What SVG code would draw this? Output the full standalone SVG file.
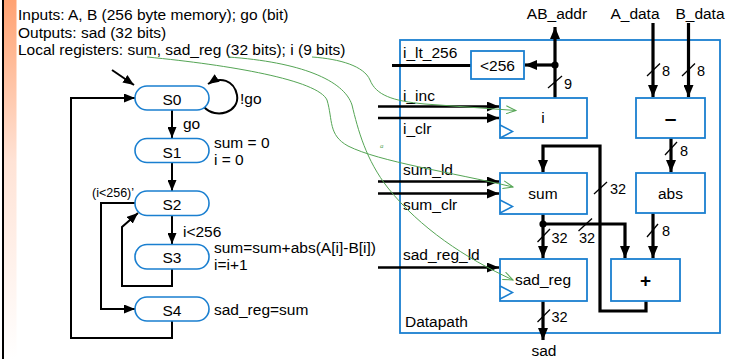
<svg xmlns="http://www.w3.org/2000/svg" width="734" height="359" viewBox="0 0 734 359">
<defs>
<linearGradient id="bar" x1="0" y1="0" x2="0" y2="1">
<stop offset="0" stop-color="#ffa272"/>
<stop offset="0.45" stop-color="#ffe3d6"/>
<stop offset="1" stop-color="#ffffff"/>
</linearGradient>
<marker id="ah" markerUnits="userSpaceOnUse" markerWidth="13" markerHeight="10" refX="12" refY="5" orient="auto"><path d="M0,0 L12,5 L0,10 z" fill="#000"/></marker>
<marker id="ahs" markerUnits="userSpaceOnUse" markerWidth="12" markerHeight="9" refX="11" refY="4.5" orient="auto"><path d="M0,0 L11,4.5 L0,9 z" fill="#000"/></marker>
<marker id="ga" markerUnits="userSpaceOnUse" markerWidth="11" markerHeight="9" refX="10" refY="4.5" orient="auto"><path d="M0,0.5 L10,4.5 L0,8.5" fill="none" stroke="#55a555" stroke-width="1"/></marker>
</defs>
<style>
text{font-family:"Liberation Sans",Arial,Helvetica,sans-serif;font-size:15.5px;fill:#000}
.pill{fill:#fff;stroke:#1a7fd0;stroke-width:1.6}
.box{fill:#fff;stroke:#1a7fd0;stroke-width:1.8}
.clk{fill:none;stroke:#1a7fd0;stroke-width:1.5}
.w{fill:none;stroke:#000;stroke-width:2}
.bus{fill:none;stroke:#000;stroke-width:3.2}
.ctl{fill:none;stroke:#000;stroke-width:2.6}
.sl{stroke:#000;stroke-width:1.3}
.g{fill:none;stroke:#55a555;stroke-width:1}
.c{text-anchor:middle}
.sm{font-size:14.5px}
</style>
<rect x="0" y="0" width="734" height="359" fill="#fff"/>
<rect x="4" y="0" width="12.5" height="359" fill="url(#bar)"/>
<line x1="3" y1="0" x2="3" y2="359" stroke="#000" stroke-width="2"/>

<g id="header">
<text x="18" y="20">Inputs: A, B (256 byte memory); go (bit)</text>
<text x="18" y="37.5">Outputs: sad (32 bits)</text>
<text x="18" y="55">Local registers: sum, sad_reg (32 bits); i (9 bits)</text>
</g>

<g id="datapath">
<rect x="400" y="40" width="320" height="293" fill="none" stroke="#1a7fd0" stroke-width="1.8"/>
<text x="405" y="327">Datapath</text>
</g>

<g id="connectors">
<!-- FSM -->
<line class="w" x1="112" y1="70" x2="134" y2="85" marker-end="url(#ahs)"/>
<path class="w" d="M204,107 C216,120 240,112 237,95 C234,80 220,76 208,84" marker-end="url(#ahs)"/>
<line class="w" x1="172" y1="110" x2="172" y2="138" marker-end="url(#ahs)"/>
<line class="w" x1="172" y1="163" x2="172" y2="191" marker-end="url(#ahs)"/>
<line class="w" x1="172" y1="216" x2="172" y2="244" marker-end="url(#ahs)"/>
<path class="w" d="M135,203 H101 V309 H135" marker-end="url(#ahs)"/>
<path class="w" d="M172,269 V286 H122 V227 L138,213" marker-end="url(#ahs)"/>
<path class="w" d="M172,321 V338 H71 V98 H135" marker-end="url(#ahs)"/>
<!-- datapath -->
<line class="bus" x1="555" y1="98" x2="555" y2="27" marker-end="url(#ah)"/>
<line class="bus" x1="555" y1="65" x2="525" y2="65" marker-end="url(#ah)"/>
<circle cx="555" cy="65" r="3.6" fill="#000"/>
<line class="bus" x1="392" y1="65.5" x2="471" y2="65.5"/>
<line class="ctl" x1="378" y1="106.5" x2="499" y2="106.5" marker-end="url(#ah)"/>
<line class="ctl" x1="378" y1="118" x2="499" y2="118" marker-end="url(#ah)"/>
<line class="ctl" x1="378" y1="181.5" x2="499" y2="181.5" marker-end="url(#ah)"/>
<line class="ctl" x1="378" y1="193.5" x2="499" y2="193.5" marker-end="url(#ah)"/>
<line class="ctl" x1="378" y1="267.5" x2="499" y2="267.5" marker-end="url(#ah)"/>
<line class="bus" x1="653" y1="23" x2="653" y2="97" marker-end="url(#ah)"/>
<line class="bus" x1="688.5" y1="23" x2="688.5" y2="97" marker-end="url(#ah)"/>
<line class="bus" x1="671" y1="138" x2="671" y2="172" marker-end="url(#ah)"/>
<line class="bus" x1="653" y1="213" x2="653" y2="258" marker-end="url(#ah)"/>
<path class="bus" d="M646,301 V311 H600 V146 H543 V172" marker-end="url(#ah)"/>
<line class="bus" x1="543" y1="214" x2="543" y2="258" marker-end="url(#ah)"/>
<path class="bus" d="M543,224 H625 V258" marker-end="url(#ah)"/>
<circle cx="543" cy="224" r="3.6" fill="#000"/>
<line class="bus" x1="543" y1="301" x2="543" y2="340" marker-end="url(#ah)"/>
<!-- bus width slashes -->
<line class="sl" x1="548" y1="88" x2="562" y2="76"/>
<line class="sl" x1="647" y1="76" x2="660" y2="63.5"/>
<line class="sl" x1="682" y1="76" x2="695" y2="63.5"/>
<line class="sl" x1="665" y1="155" x2="677" y2="142"/>
<line class="sl" x1="647" y1="237" x2="658" y2="224"/>
<line class="sl" x1="594" y1="194" x2="607" y2="182"/>
<line class="sl" x1="537.5" y1="242" x2="550" y2="229"/>
<line class="sl" x1="578.5" y1="231" x2="592" y2="218.5"/>
<line class="sl" x1="537.5" y1="322" x2="550" y2="309.5"/>
</g>

<g id="S0"><rect class="pill" x="135" y="86" width="74" height="24" rx="12"/><text class="c" x="172" y="105">S0</text></g>
<g id="S1"><rect class="pill" x="135" y="138.5" width="74" height="24" rx="12"/><text class="c" x="172" y="157.5">S1</text></g>
<g id="S2"><rect class="pill" x="135" y="191" width="74" height="24.5" rx="12"/><text class="c" x="172" y="210">S2</text></g>
<g id="S3"><rect class="pill" x="135" y="244.5" width="74" height="24.5" rx="12"/><text class="c" x="172" y="263">S3</text></g>
<g id="S4"><rect class="pill" x="135" y="297" width="74" height="24" rx="12"/><text class="c" x="172" y="316">S4</text></g>

<g id="fsm-labels">
<text x="240" y="103.5">!go</text>
<text x="183" y="129">go</text>
<text x="214" y="148">sum = 0</text>
<text x="214" y="165">i = 0</text>
<text x="92" y="197" style="font-size:12.5px">(i&lt;256)’</text>
<text x="183" y="237">i&lt;256</text>
<text x="214" y="253">sum=sum+abs(A[i]-B[i])</text>
<text x="214" y="269.5">i=i+1</text>
<text x="214" y="314.5">sad_reg=sum</text>
</g>

<g id="lt256"><rect class="box" x="471" y="51" width="53" height="28"/><text class="c" x="497.5" y="70.5">&lt;256</text></g>
<g id="reg_i"><rect class="box" x="500" y="98" width="87" height="40"/><path class="clk" d="M500,125 L512.5,131.5 L500,138"/><text class="c" x="543" y="122.5">i</text></g>
<g id="sub"><rect class="box" x="636" y="98" width="69" height="40"/><text class="c" x="670.5" y="125" style="font-size:21px;font-weight:bold">–</text></g>
<g id="reg_sum"><rect class="box" x="500" y="173" width="87" height="41"/><path class="clk" d="M500,200 L512.5,206.5 L500,213"/><text class="c" x="543" y="198.5">sum</text></g>
<g id="abs"><rect class="box" x="636" y="173" width="69" height="40"/><text class="c" x="670.5" y="198.5">abs</text></g>
<g id="reg_sad"><rect class="box" x="500" y="259" width="87" height="42"/><path class="clk" d="M500,286 L512.5,292.5 L500,299"/><text class="c" x="543" y="284.5">sad_reg</text></g>
<g id="add"><rect class="box" x="611" y="259" width="69" height="42"/><text class="c" x="645.5" y="287" style="font-size:19px;font-weight:bold">+</text></g>

<g id="dp-labels">
<text class="c" x="557" y="19">AB_addr</text>
<text class="c" x="635" y="19">A_data</text>
<text class="c" x="700" y="19">B_data</text>
<text x="403" y="58">i_lt_256</text>
<text x="403" y="101">i_inc</text>
<text x="403" y="134">i_clr</text>
<text x="403" y="174.5">sum_ld</text>
<text x="403" y="210">sum_clr</text>
<text x="403" y="259.5">sad_reg_ld</text>
<text class="sm" x="564" y="88.5">9</text>
<text class="sm" x="662" y="75.5">8</text>
<text class="sm" x="697" y="75.5">8</text>
<text class="sm" x="680" y="155.5">8</text>
<text class="sm" x="662" y="236">8</text>
<text class="sm" x="610" y="193.5">32</text>
<text class="sm" x="551.5" y="243">32</text>
<text class="sm" x="579" y="243">32</text>
<text class="sm" x="551.5" y="322">32</text>
<text class="c" x="544" y="356">sad</text>
</g>

<g id="annotations">
<path class="g" d="M312,57 C340,59 364,66 370,80 C376,95 392,101 425,104 L516,110.5" marker-end="url(#ga)"/>
<path class="g" d="M147,57 C230,65 318,80 327,100 C333,120 328,135 348,146 C380,162 450,172 513,187" marker-end="url(#ga)"/>
<path class="g" d="M228,57 C300,62 344,80 352,105 C358,130 366,160 388,188 C420,228 465,258 513,280" marker-end="url(#ga)"/>
<text x="380" y="148" style="font-family:'Liberation Serif',serif;font-size:7px;font-style:italic;fill:#55a555">a</text>
</g>
</svg>
